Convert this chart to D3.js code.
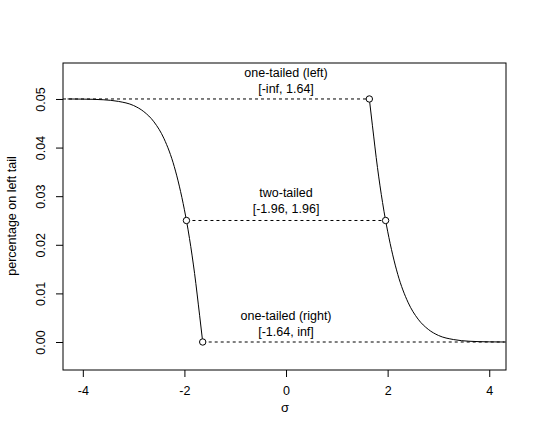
<!DOCTYPE html>
<html><head><meta charset="utf-8">
<script src="https://cdn.jsdelivr.net/npm/d3@7"></script>
<style>body{margin:0;background:#fff}text{font-family:"Liberation Sans",Arial,sans-serif;font-size:12px}</style>
</head><body><svg id="chart" width="540" height="432"></svg>
<script>
// curve pieces
var leftX = [-4.3, -4.0, -3.6, -3.3, -3.0, -2.8, -2.6, -2.4, -2.2, -2.0, -1.96, -1.9, -1.8, -1.7, -1.64];
var leftY = [0.05, 0.04997, 0.04984, 0.0495, 0.04865, 0.0474, 0.0453, 0.0418, 0.0361, 0.0272, 0.025, 0.0213, 0.0141, 0.0054, 0];
var rightX = [1.64, 1.7, 1.8, 1.9, 1.96, 2.0, 2.2, 2.4, 2.6, 2.8, 3.0, 3.3, 3.6, 4.0, 4.3];
var rightY = [0.05, 0.0446, 0.0359, 0.0287, 0.025, 0.0228, 0.0139, 0.0082, 0.0047, 0.0026, 0.00135, 0.0005, 0.00016, 0.00003, 0];
var guideFrom = [-4.39, -1.96, -1.64];
var guideTo = [1.64, 1.96, 4.33];
var guideY = [0.05, 0.025, 0];
var pointX = [1.64, -1.96, 1.96, -1.64];
var pointY = [0.05, 0.025, 0.025, 0];
var labels = [["one-tailed (left)", "[-inf, 1.64]"], ["two-tailed", "[-1.96, 1.96]"], ["one-tailed (right)", "[-1.64, inf]"]];
var labelY = [0.0545, 0.0298, 0.0045];
var xTicks = [-4, -2, 0, 2, 4];
var yTicks = [0, 0.01, 0.02, 0.03, 0.04, 0.05];

var svg = d3.select("#chart");
var x = d3.scaleLinear().domain([-4.39, 4.33]).range([63, 506]);
var y = d3.scaleLinear().domain([-0.00576, 0.0574]).range([370, 63]);

svg.append("rect").attr("x", 63).attr("y", 63).attr("width", 443).attr("height", 307)
   .attr("fill", "none").attr("stroke", "#000");

var xAxis = svg.append("g").attr("transform", "translate(0,370)")
   .call(d3.axisBottom(x).tickValues(xTicks).tickSize(7).tickPadding(9).tickFormat(function(d) { return String(d); }));
var yAxis = svg.append("g").attr("transform", "translate(63,0)")
   .call(d3.axisLeft(y).tickValues(yTicks).tickSize(7).tickFormat(function(d) { return d.toFixed(2); }));
[xAxis, yAxis].forEach(function(a) {
    a.select(".domain").remove();
    a.selectAll("text").attr("fill", "#000").style("font-size", "12.5px");
});
yAxis.selectAll(".tick text").attr("transform", "translate(-18,0) rotate(-90)")
     .attr("y", 0).attr("x", 0).attr("dy", "0").attr("text-anchor", "middle");

var line = d3.line().curve(d3.curveMonotoneX)
   .x(function(d) { return x(d[0]); }).y(function(d) { return y(d[1]); });
[[leftX, leftY], [rightX, rightY]].forEach(function(p) {
    svg.append("path").attr("d", line(d3.zip(p[0], p[1]))).attr("fill", "none").attr("stroke", "#000");
});

guideY.forEach(function(v, i) {
    svg.append("line").attr("x1", x(guideFrom[i])).attr("x2", x(guideTo[i]))
       .attr("y1", y(v)).attr("y2", y(v)).attr("stroke", "#000").attr("stroke-dasharray", "3,3");
});

pointX.forEach(function(v, i) {
    svg.append("circle").attr("cx", x(v)).attr("cy", y(pointY[i])).attr("r", 3.2)
       .attr("fill", "#fff").attr("stroke", "#000");
});

labels.forEach(function(l, i) {
    var t = svg.append("text").attr("x", x(0)).attr("y", y(labelY[i])).attr("text-anchor", "middle")
       .style("font-size", "12.5px");
    t.append("tspan").attr("x", x(0)).text(l[0]);
    t.append("tspan").attr("x", x(0)).attr("dy", 16).text(l[1]);
});

svg.append("text").attr("x", 285).attr("y", 412).attr("text-anchor", "middle").style("font-size", "13px").text("σ");
svg.append("text").attr("transform", "translate(16,216) rotate(-90)").attr("text-anchor", "middle")
   .style("font-size", "12.5px").text("percentage on left tail");
</script></body></html>
